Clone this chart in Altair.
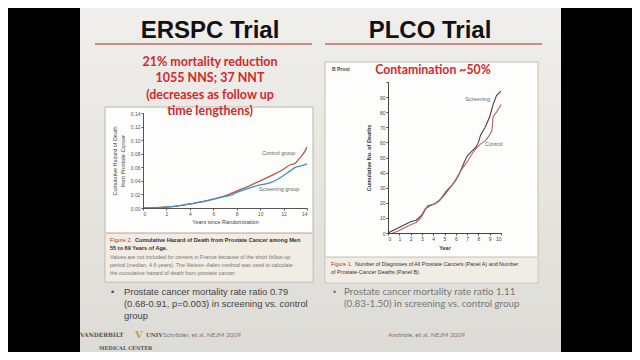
import altair as alt
import pandas as pd

# ---------------- data ----------------
erspc_years_control = [0, 1, 2, 3, 4, 5, 6, 7, 8, 9, 10, 11, 12, 12.5, 13, 13.3, 13.6, 13.8, 14]
erspc_control = [0, 0.0005, 0.0015, 0.003, 0.006, 0.009, 0.013, 0.018, 0.025, 0.032, 0.040, 0.048, 0.057, 0.063, 0.066, 0.072, 0.078, 0.083, 0.090]
erspc_years_screen = [0, 1, 2, 3, 4, 5, 6, 7, 7.5, 8, 9, 10, 11, 12, 12.5, 13, 13.5, 14]
erspc_screen = [0, 0.0005, 0.0012, 0.003, 0.006, 0.009, 0.013, 0.017, 0.019, 0.023, 0.029, 0.034, 0.038, 0.048, 0.054, 0.060, 0.062, 0.065]

plco_years_screen = [0, 0.4, 0.8, 1.2, 1.6, 2.0, 2.5, 3.0, 3.3, 3.7, 4.2, 4.6, 4.9, 5.2, 5.6, 6.0, 6.3, 6.7, 7.0, 7.4, 7.8, 8.0, 8.2, 8.6, 9.0, 9.3, 9.6, 10]
plco_screen = [0, 1.5, 3, 4.5, 6, 7.5, 8.5, 12, 16, 18, 19.5, 22, 25, 28, 31, 35, 39, 46, 51, 54, 57, 60, 65, 70, 77, 85, 91, 94]
plco_years_control = [0.4, 0.8, 1.2, 1.6, 2.0, 2.5, 2.9, 3.2, 3.5, 4.0, 4.5, 5.0, 5.4, 5.8, 6.2, 6.6, 7.0, 7.4, 7.8, 8.2, 8.6, 9.0, 9.2, 9.3, 9.6, 10]
plco_control = [0, 1, 2.5, 4, 5.5, 7, 10, 14, 18, 19, 21, 25, 29, 33, 38, 43, 47, 52, 56, 59, 61, 65, 68, 77, 80, 85]

erspc_ticks_x = [0, 2, 4, 6, 8, 10, 12, 14]
erspc_ticks_y = [0, 0.02, 0.04, 0.06, 0.08, 0.10, 0.12, 0.14]
plco_ticks_x = list(range(0, 11))
plco_ticks_y = list(range(0, 101, 10))

erspc_df = pd.DataFrame({
    "year": erspc_years_control + erspc_years_screen,
    "hazard": erspc_control + erspc_screen,
    "group": ["Control group"] * len(erspc_control) + ["Screening group"] * len(erspc_screen),
})
plco_df = pd.DataFrame({
    "year": plco_years_screen + plco_years_control,
    "deaths": plco_screen + plco_control,
    "group": ["Screening"] * len(plco_screen) + ["Control"] * len(plco_control),
})

M = 8  # page margin


def T(text, x, y, size, color="#000", weight="normal", font="Liberation Sans",
      align="left", baseline="middle", angle=0):
    return alt.Chart(alt.Data(values=[{}])).mark_text(
        text=text, fontSize=size, color=color, fontWeight=weight, font=font,
        align=align, baseline=baseline, angle=angle).encode(
        x=alt.value(x - M), y=alt.value(y - M))


def R(x1, y1, x2, y2, fill, stroke=None, sw=1.0):
    kw = dict(fill=fill)
    if stroke is not None:
        kw.update(stroke=stroke, strokeWidth=sw)
    return alt.Chart(alt.Data(values=[{}])).mark_rect(**kw).encode(
        x=alt.value(x1 - M), x2=alt.value(x2 - M), y=alt.value(y1 - M), y2=alt.value(y2 - M))


def L(x1, x2, y, color, sw):
    return alt.Chart(alt.Data(values=[{}])).mark_rule(color=color, strokeWidth=sw).encode(
        x=alt.value(x1 - M), x2=alt.value(x2 - M), y=alt.value(y - M))


slide_grad = alt.Gradient(
    gradient="linear",
    stops=[alt.GradientStop(color="#f0efec", offset=0),
           alt.GradientStop(color="#e7e5e0", offset=0.5),
           alt.GradientStop(color="#dcdad4", offset=1)],
    x1=0, x2=0, y1=0, y2=1)

layers = []
layers.append(R(80, 0, 561, 370, slide_grad))

# titles
layers.append(T("ERSPC Trial", 210, 31, 24, "#111", "bold", align="center"))
layers.append(T("PLCO Trial", 430, 31, 24, "#111", "bold", align="center"))
layers.append(L(95, 312, 44, "#c46a66", 1.6))
layers.append(L(325, 542, 44, "#c46a66", 1.6))

# figure boxes
layers.append(R(105, 107, 313, 282, "#fdfdfc", "#b9b6b0", 1))
layers.append(R(106, 233, 312, 281, "#f1ece4"))
layers.append(L(106, 312, 233, "#b08a80", 0.8))
layers.append(R(325, 62, 538, 283, "#fdfdfc", "#c2bfb9", 1))
layers.append(R(326, 257, 537, 282, "#f1ece4"))
layers.append(L(326, 537, 257, "#b8b2aa", 0.8))

# red annotations
red = "#d8262a"
for i, line in enumerate(["21% mortality reduction", "1055 NNS; 37 NNT",
                          "(decreases as follow up", "time lengthens)"]):
    layers.append(T(line, 210, 62 + i * 16.4, 12.5, red, "bold", font="Lato", align="center"))
layers.append(T("Contamination ~50%", 433, 70, 12.3, red, "bold", font="Lato", align="center"))
layers.append(T("B  Prost", 332, 69, 5, "#444", "bold"))

axis_common = dict(grid=False, labelFontSize=5, tickSize=2, labelPadding=1,
                   titleFontSize=5.5, zindex=2)

# ---- ERSPC curves ----
ex = alt.Scale(domain=[0, 14], range=[143 - M, 307 - M], nice=False, zero=False)
ey = alt.Scale(domain=[0, 0.14], range=[208 - M, 113 - M], nice=False, zero=False)
erspc = alt.Chart(erspc_df).mark_line(strokeWidth=1.3, interpolate="monotone").encode(
    x=alt.X("year:Q", scale=ex, axis=alt.Axis(
        orient="bottom", offset=(208 - M) - 344, values=erspc_ticks_x,
        labelColor="#555", tickColor="#555", domainColor="#555",
        title="Years since Randomization", titleFontWeight="normal", titleColor="#444",
        titlePadding=3, **axis_common)),
    y=alt.Y("hazard:Q", scale=ey, axis=alt.Axis(
        orient="left", offset=-(143 - M), values=erspc_ticks_y, format=".2f",
        labelColor="#555", tickColor="#555", domainColor="#555",
        title=["Cumulative Hazard of Death", "from Prostate Cancer"],
        titleFontWeight="normal", titleColor="#444", titlePadding=5, **axis_common)),
    color=alt.Color("group:N", scale=alt.Scale(domain=["Control group", "Screening group"],
                                               range=["#b9574c", "#3f8fc6"]), legend=None),
)
layers.append(erspc)
layers.append(T("Control group", 262, 153, 5.5, "#666"))
layers.append(T("Screening group", 259, 189, 5.5, "#666"))

# ---- PLCO curves ----
px = alt.Scale(domain=[0, 10], range=[388 - M, 501 - M], nice=False, zero=False)
py = alt.Scale(domain=[0, 100], range=[233 - M, 82 - M], nice=False, zero=False)
plco = alt.Chart(plco_df).mark_line(strokeWidth=1.1).encode(
    x=alt.X("year:Q", scale=px, axis=alt.Axis(
        orient="bottom", offset=(233 - M) - 344, values=plco_ticks_x,
        labelColor="#444", tickColor="#444", domainColor="#444",
        title="Year", titleFontWeight="bold", titleColor="#333", titlePadding=4,
        **axis_common)),
    y=alt.Y("deaths:Q", scale=py, axis=alt.Axis(
        orient="left", offset=-(388 - M), values=plco_ticks_y,
        labelExpr="datum.value == 100 ? '' : datum.label",
        labelColor="#444", tickColor="#444", domainColor="#444",
        title="Cumulative No. of Deaths", titleFontWeight="bold", titleColor="#333",
        titlePadding=8, **axis_common)),
    color=alt.Color("group:N", scale=alt.Scale(domain=["Screening", "Control"],
                                               range=["#4d3f3f", "#b8665e"]), legend=None),
)
layers.append(plco)
layers.append(T("Screening", 490, 99, 5.5, "#666", align="right"))
layers.append(T("Control", 485, 144, 5.5, "#666"))

# ---- captions ----
layers.append(T("Figure 2.", 110, 240, 5.6, "#c0392b"))
layers.append(T("Cumulative Hazard of Death from Prostate Cancer among Men", 135, 240, 5.6, "#333", "bold"))
layers.append(T("55 to 69 Years of Age.", 110, 248, 5.6, "#333", "bold"))
for i, line in enumerate(["Values are not included for centers in France because of the short follow-up",
                          "period (median, 4.6 years). The Nelson\u2013Aalen method was used to calculate",
                          "the cumulative hazard of death from prostate cancer."]):
    layers.append(T(line, 110, 257 + i * 8, 5.4, "#777"))
layers.append(T("Figure 1.", 331, 264, 5.4, "#c0392b"))
layers.append(T("Number of Diagnoses of All Prostate Cancers (Panel A) and Number", 355, 264, 5.4, "#333"))
layers.append(T("of Prostate-Cancer Deaths (Panel B).", 331, 272, 5.4, "#333"))

# ---- bullets ----
layers.append(T("\u2022", 111, 292, 9, "#444"))
for i, line in enumerate(["Prostate cancer mortality rate ratio 0.79",
                          "(0.68-0.91, p=0.003) in screening vs. control",
                          "group"]):
    layers.append(T(line, 124, 292 + i * 11.8, 9.4, "#444"))
layers.append(T("\u2022", 333, 292, 9, "#777"))
for i, line in enumerate(["Prostate cancer mortality rate ratio 1.11",
                          "(0.83-1.50) in screening vs. control group"]):
    layers.append(T(line, 344, 292 + i * 12, 9.8, "#777", font="Lato"))

# ---- footer ----
layers.append(T("VANDERBILT", 80, 335, 5.8, "#555", "bold", font="DejaVu Serif"))
layers.append(T("V", 135, 335, 10, "#c9a13b", "bold", font="DejaVu Serif"))
layers.append(T("UNIV", 146, 335, 5.5, "#555", "bold", font="DejaVu Serif"))
layers.append(T("Schr\u00f6der, et al. NEJM 2009", 163, 335, 6.5, "#777", font="Lato"))
layers.append(T("MEDICAL CENTER", 99, 348, 5, "#555", "bold", font="DejaVu Serif"))
layers.append(T("Andriole, et al. NEJM 2009", 388, 335, 6.5, "#777", font="Lato"))

chart = alt.layer(*layers).resolve_scale(
    x="independent", y="independent", color="independent"
).properties(
    width=624, height=344, padding=0,
    autosize=alt.AutoSizeParams(type="none"),
    background="#000000",
).configure_view(strokeWidth=0)

chart.save("out.html", embed_options={"renderer": "svg", "actions": False})
